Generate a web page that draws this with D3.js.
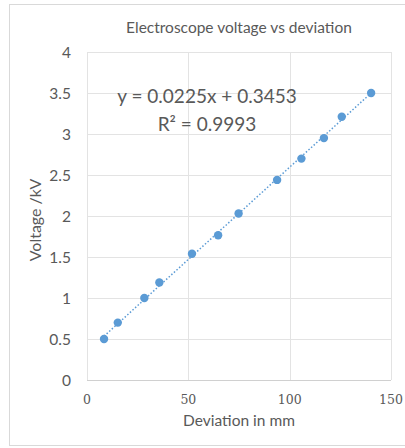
<!DOCTYPE html>
<html>
<head>
<meta charset="utf-8">
<script src="https://cdn.jsdelivr.net/npm/d3@7"></script>
<style>
  body { margin: 0; background: #fff; }
  text { font-family: Lato, "Open Sans", sans-serif; fill: #595959; }
</style>
</head>
<body>
<div class="box"></div>
<script>
// données
const deviation = [8.4, 15.2, 28.3, 35.7, 51.8, 64.7, 74.8, 93.8, 105.8, 116.9, 125.7, 140.2];
const voltage = [0.50, 0.70, 1.00, 1.19, 1.54, 1.765, 2.03, 2.44, 2.70, 2.95, 3.21, 3.50];
const xTicks = [0, 50, 100, 150];
const yTicks = [0, 0.5, 1, 1.5, 2, 2.5, 3, 3.5, 4];
const pente = 0.0225, origine = 0.3453;

const dims = {width: 405, height: 448};
const marge = {left: 87, right: 14, top: 52, bottom: 68};

const svg = d3.select('.box')
              .append('svg')
              .attr('width', dims.width)
              .attr('height', dims.height);

// cadre du graphique
svg.append('rect')
   .attr('x', 9.5).attr('y', 4.5)
   .attr('width', 420).attr('height', 441)
   .attr('fill', 'none')
   .attr('stroke', '#d9d9d9');

const x = d3.scaleLinear().domain([0, 150]).range([marge.left, dims.width - marge.right]);
const y = d3.scaleLinear().domain([0, 4]).range([dims.height - marge.bottom, marge.top]);

// grille
svg.append('g').selectAll('line')
   .data(yTicks)
   .enter().append('line')
   .attr('x1', x(0)).attr('x2', x(150))
   .attr('y1', d => Math.round(y(d)) + 0.5).attr('y2', d => Math.round(y(d)) + 0.5)
   .attr('stroke', '#e3e3e3');

svg.append('g').selectAll('line')
   .data(xTicks)
   .enter().append('line')
   .attr('y1', y(0)).attr('y2', y(4))
   .attr('x1', d => Math.round(x(d)) + 0.5).attr('x2', d => Math.round(x(d)) + 0.5)
   .attr('stroke', '#e3e3e3');

// axe horizontal
svg.append('line')
   .attr('x1', x(0)).attr('x2', x(150))
   .attr('y1', Math.round(y(0)) + 0.5).attr('y2', Math.round(y(0)) + 0.5)
   .attr('stroke', '#d0d0d0');

// labels des axes
svg.append('g').selectAll('text')
   .data(yTicks)
   .enter().append('text')
   .attr('x', 71)
   .attr('y', d => y(d) + 5.5)
   .attr('text-anchor', 'end')
   .attr('font-size', 15.5)
   .text(d => d);

svg.append('g').selectAll('text')
   .data(xTicks)
   .enter().append('text')
   .attr('x', d => x(d))
   .attr('y', 404)
   .attr('text-anchor', 'middle')
   .attr('font-size', 12.5)
   .style('font-family', '"DejaVu Serif", serif')
   .text(d => d);

svg.append('text')
   .attr('x', 239).attr('y', 426)
   .attr('text-anchor', 'middle')
   .attr('font-size', 15.5)
   .text('Deviation in mm');

svg.append('text')
   .attr('transform', 'translate(41, 220) rotate(-90)')
   .attr('text-anchor', 'middle')
   .attr('font-size', 16)
   .text('Voltage /kV');

svg.append('text')
   .attr('x', 239).attr('y', 33)
   .attr('text-anchor', 'middle')
   .attr('font-size', 15.5)
   .text('Electroscope voltage vs deviation');

// droite de tendance
const xMin = d3.min(deviation), xMax = d3.max(deviation);
svg.append('line')
   .attr('x1', x(xMin)).attr('y1', y(pente * xMin + origine))
   .attr('x2', x(xMax)).attr('y2', y(pente * xMax + origine))
   .attr('stroke', '#5b9bd5')
   .attr('stroke-width', 1.5)
   .attr('stroke-dasharray', '1.5 2');

// points
svg.append('g').selectAll('circle')
   .data(deviation)
   .enter().append('circle')
   .attr('cx', d => x(d))
   .attr('cy', (d, i) => y(voltage[i]))
   .attr('r', 4.2)
   .attr('fill', '#5b9bd5');

// équation
svg.append('text')
   .attr('x', 207).attr('y', 103)
   .attr('text-anchor', 'middle')
   .attr('font-size', 19)
   .text(`y = ${pente}x + ${origine}`);

svg.append('text')
   .attr('x', 207).attr('y', 131)
   .attr('text-anchor', 'middle')
   .attr('font-size', 19)
   .text('R² = 0.9993');
</script>
</body>
</html>
